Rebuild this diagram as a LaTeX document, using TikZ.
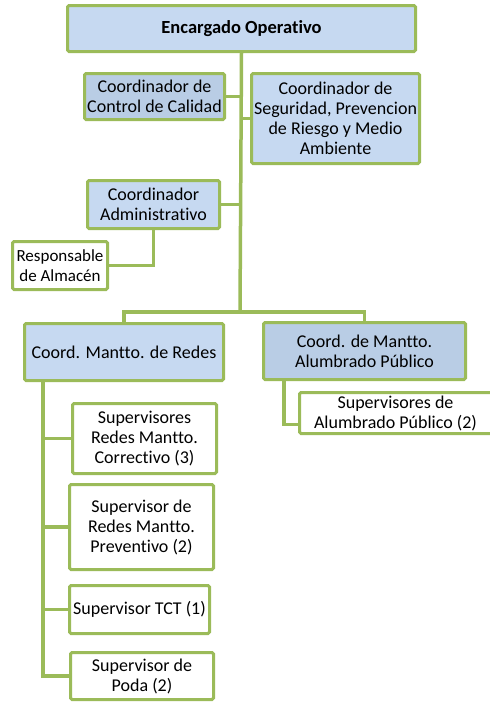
\documentclass[tikz,border=0pt]{standalone}
\usepackage{fontspec}
\setmainfont{Carlito}[Ligatures={NoCommon}]
\definecolor{boxblue}{HTML}{C6D9F1}
\definecolor{boxblued}{HTML}{B9CDE5}
\definecolor{boxgreen}{HTML}{9BBB59}
\tikzset{
  orgbox/.style={draw=boxgreen, line width=3pt, rounded corners=1.5pt, rectangle, anchor=north west,
    align=center, inner sep=0pt, font=\fontsize{18}{20}\selectfont, text=black},
  bluebox/.style={orgbox, fill=boxblue},
  darkbox/.style={orgbox, fill=boxblued},
  whitebox/.style={orgbox, fill=white},
  link/.style={draw=boxgreen, line width=3.5pt}
}
\begin{document}
\begin{tikzpicture}[x=1pt,y=-1pt]
\useasboundingbox (0,0) rectangle (490,702);
\coordinate (j) at (240,312);
\node[bluebox, minimum width=348pt, minimum height=46pt, font=\fontsize{18.5}{20}\selectfont\bfseries] (top) at (66,4) {Encargado Operativo};
\node[darkbox, minimum width=140pt, minimum height=46pt] (cal) at (83,72) {Coordinador de\\Control de Calidad};
\node[bluebox, minimum width=168pt, minimum height=90pt] (seg) at (250,72) {Coordinador de\\Seguridad, Prevencion\\de Riesgo y Medio\\Ambiente};
\node[bluebox, minimum width=132pt, minimum height=48pt] (adm) at (86,179) {Coordinador\\Administrativo};
\node[whitebox, minimum width=95pt, minimum height=48pt, font=\fontsize{17}{20}\selectfont] (resp) at (11,240) {Responsable\\de Almacén};
\node[bluebox, minimum width=199pt, minimum height=57pt] (redes) at (23,322) {Coord. Mantto. de Redes};
\node[darkbox, minimum width=202pt, minimum height=57pt] (alum) at (262,321) {Coord. de Mantto.\\Alumbrado Público};
\node[whitebox, minimum width=204pt, minimum height=41pt] (supal) at (298,391) {Supervisores de\hspace*{12pt}\\Alumbrado Público (2)\hspace*{12pt}};
\node[whitebox, minimum width=144pt, minimum height=70pt] (corr) at (71,402) {Supervisores\\Redes Mantto.\\Correctivo (3)};
\node[whitebox, minimum width=144pt, minimum height=85pt] (prev) at (68,483) {Supervisor de\\Redes Mantto.\\Preventivo (2)};
\node[whitebox, minimum width=140pt, minimum height=48pt] (tct) at (68,584) {Supervisor TCT (1)};
\node[whitebox, minimum width=143pt, minimum height=47pt] (poda) at (69,651) {Supervisor de\\Poda (2)};
\draw[link] (top.south) -- (j);
\draw[link] (cal.east) -- (cal.east -| top.south);
\draw[link] (seg.west) -- (seg.west -| top.south);
\draw[link] (adm.east) -- (adm.east -| top.south);
\draw[link] (adm.south) |- (resp.east);
\draw[link] (j) -| (redes.north);
\draw[link] (j) -| (alum.north);
\coordinate (at) at ([xshift=22pt]alum.south west);
\draw[link] (at) |- ([yshift=-11.5pt]supal.west);
\coordinate (rt) at ([xshift=20pt]redes.south west);
\draw[link] (rt) |- (poda.west);
\draw[link] (rt |- corr.west) -- (corr.west);
\draw[link] (rt |- prev.west) -- (prev.west);
\draw[link] (rt |- tct.west) -- (tct.west);
\end{tikzpicture}
\end{document}
